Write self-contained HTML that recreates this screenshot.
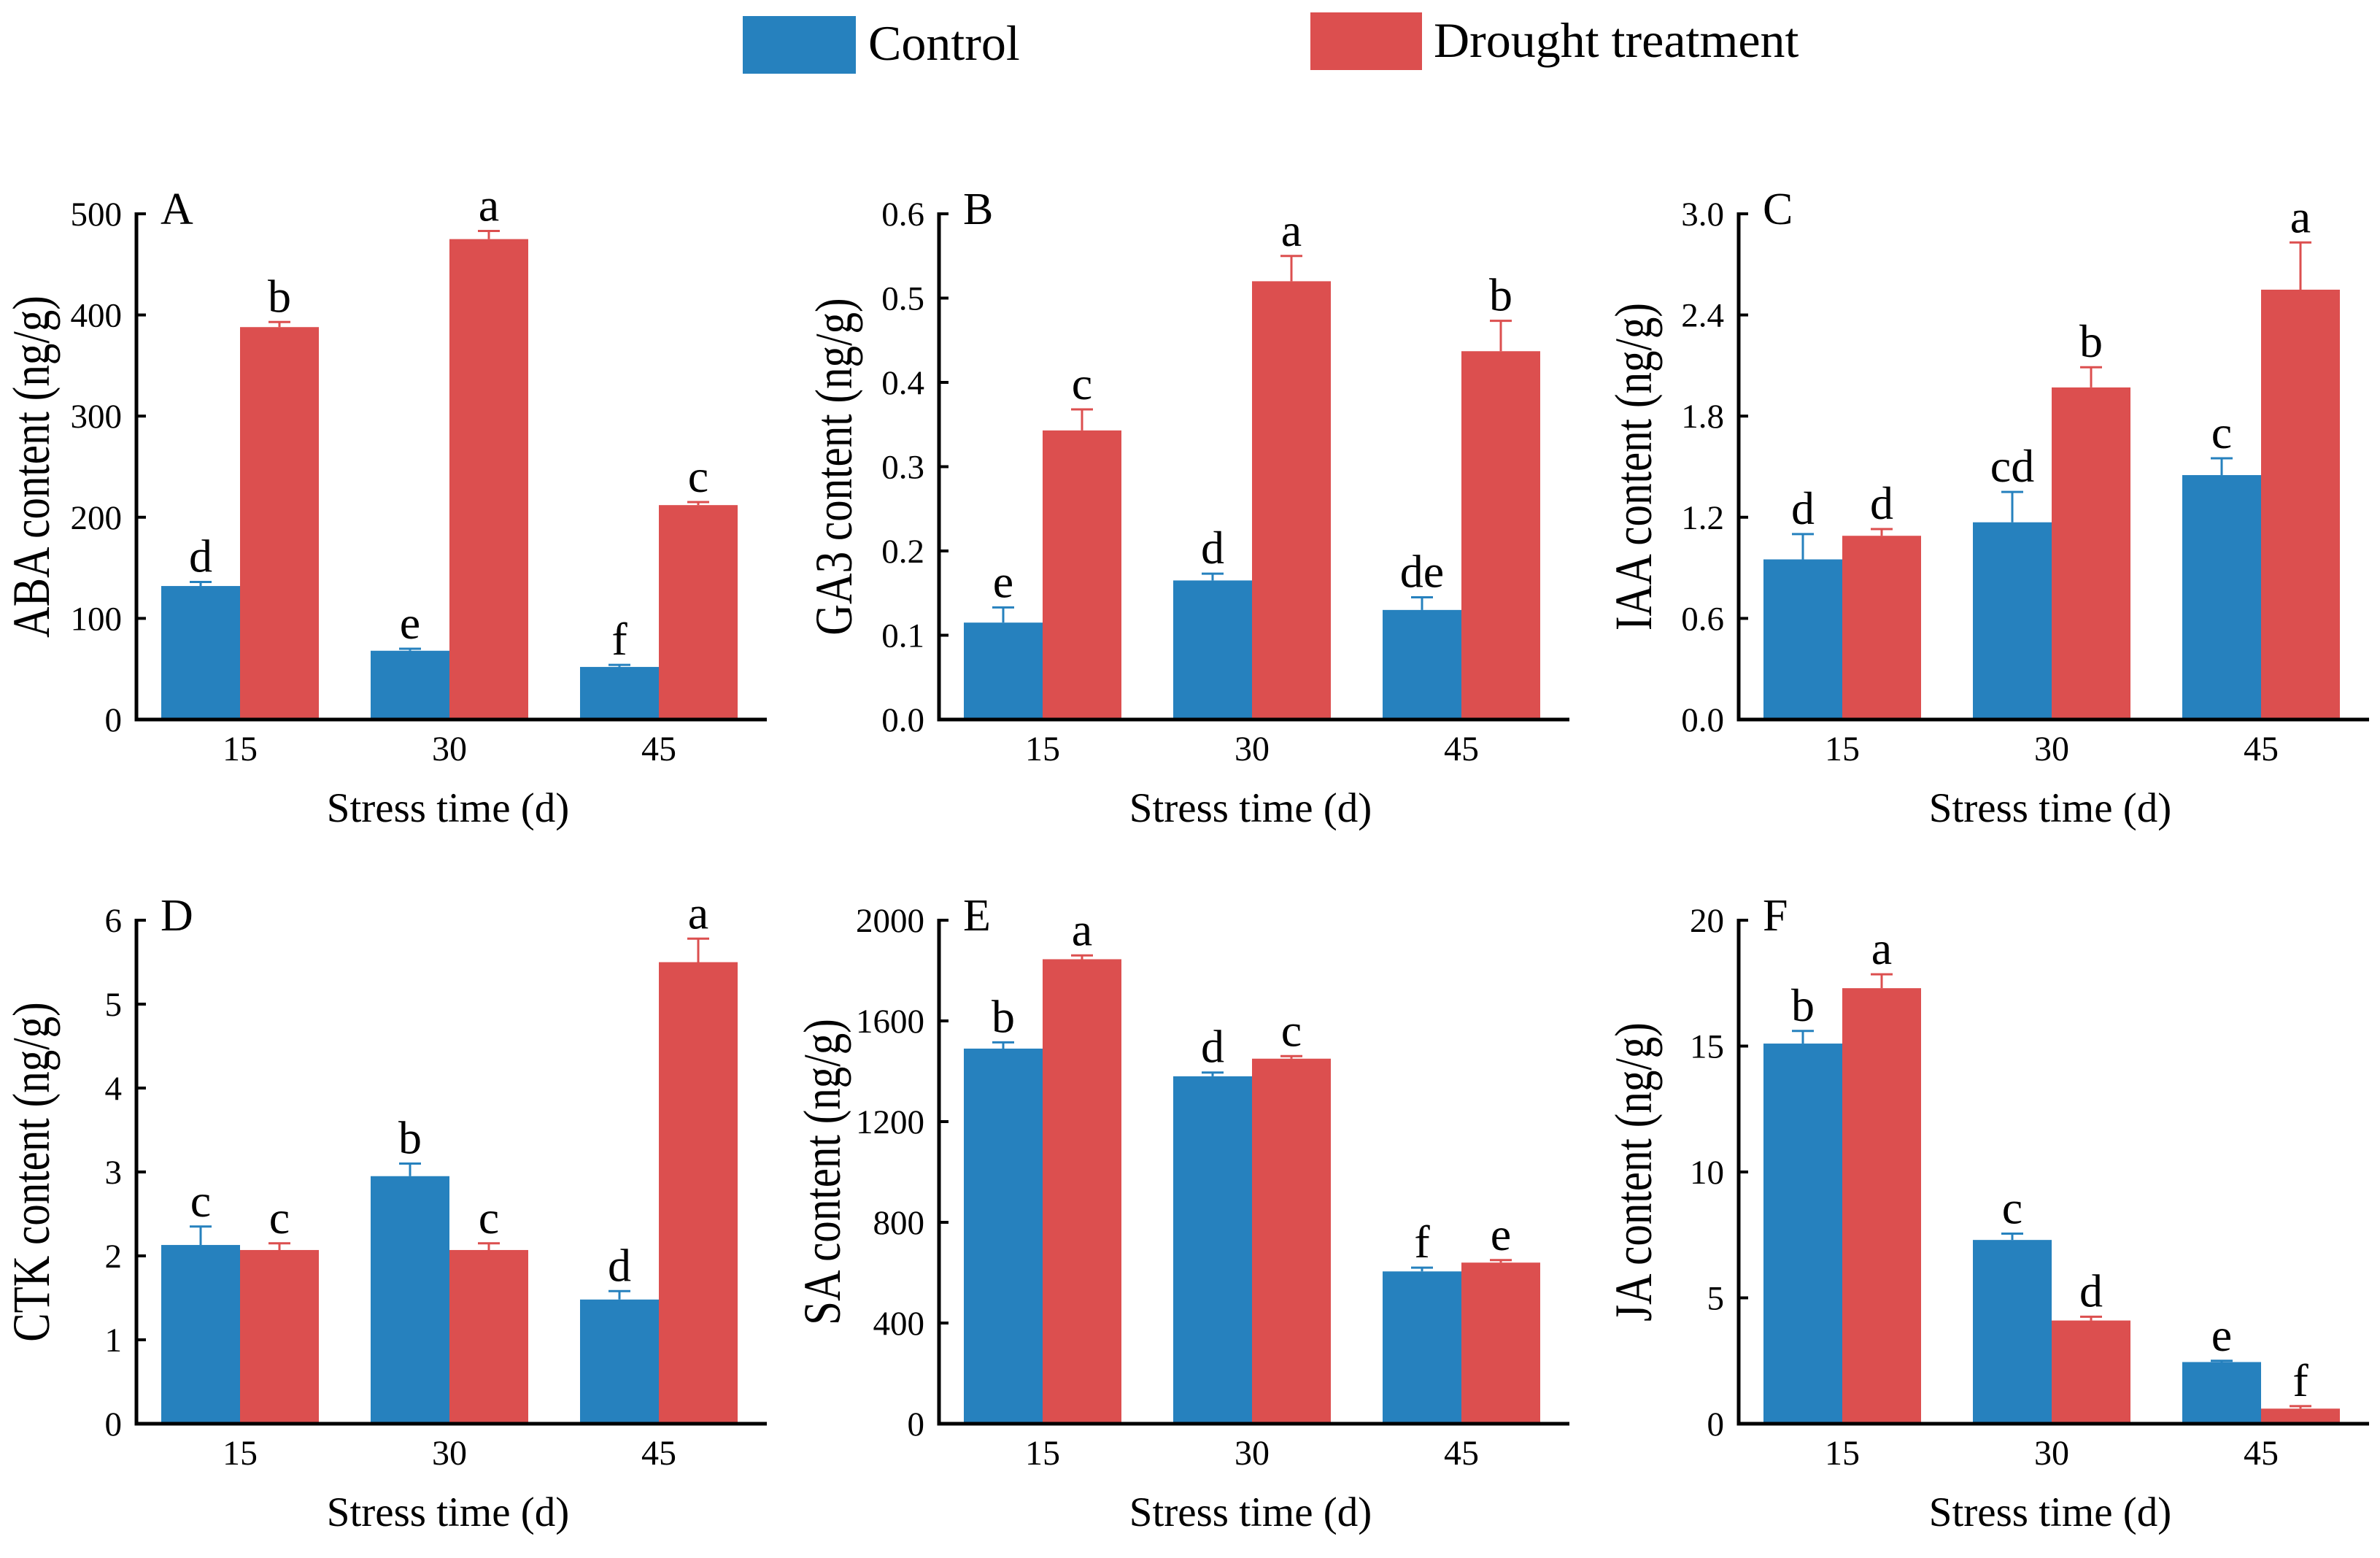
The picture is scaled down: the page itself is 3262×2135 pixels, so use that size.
<!DOCTYPE html>
<html><head><meta charset="utf-8"><style>
html,body{margin:0;padding:0;background:#fff;}
svg{display:block;font-family:"Liberation Serif",serif;}
</style></head><body>
<svg id="fig" width="3262" height="2135" viewBox="0 0 3262 2135" xmlns="http://www.w3.org/2000/svg">
<g>
<rect x="1018" y="22" width="155" height="79" fill="#2681be"/>
<text x="1190" y="82" font-size="68">Control</text>
<rect x="1796" y="17" width="153" height="79" fill="#dc4f4f"/>
<text x="1965" y="78" font-size="68">Drought treatment</text>
</g>
</svg>
<script>
const categories = ["15","30","45"];
const panelLetters = ["A","B","C","D","E","F"];
const yTitles = ["ABA content (ng/g)","GA3 content (ng/g)","IAA content (ng/g)","CTK content (ng/g)","SA content (ng/g)","JA content (ng/g)"];
const yMax = [500,0.6,3.0,6,2000,20];
const yStep = [100,0.1,0.6,1,400,5];
const yDecimals = [0,1,1,0,0,0];
const controlValues = [[132,68,52],[0.115,0.165,0.13],[0.95,1.17,1.45],[2.13,2.95,1.48],[1490,1380,605],[15.1,7.3,2.45]];
const controlErrors = [[4,2,2],[0.018,0.008,0.015],[0.15,0.18,0.1],[0.22,0.15,0.1],[25,15,15],[0.5,0.25,0.05]];
const droughtValues = [[388,475,212],[0.343,0.52,0.437],[1.09,1.97,2.55],[2.07,2.07,5.5],[1845,1450,640],[17.3,4.1,0.6]];
const droughtErrors = [[5,8,3],[0.025,0.03,0.036],[0.04,0.12,0.28],[0.08,0.08,0.28],[15,10,10],[0.55,0.15,0.1]];
const controlLetters = [["d","e","f"],["e","d","de"],["d","cd","c"],["c","b","d"],["b","d","f"],["b","c","e"]];
const droughtLetters = [["b","a","c"],["c","a","b"],["d","b","a"],["c","c","a"],["a","c","e"],["a","d","f"]];

const NS = "http://www.w3.org/2000/svg";
const svg = document.getElementById("fig");
function mk(tag, attrs, parent){
  const e = document.createElementNS(NS, tag);
  for (const k in attrs) e.setAttribute(k, attrs[k]);
  parent.appendChild(e);
  return e;
}
const axisX = [187,1287,2383];
const topY = [293,1261];
const zeroY = [986,1951];
const axisLen = 864, groupOff = 142, groupSp = 287, barW = 108;
const colors = ["#2681be","#dc4f4f"];
const titleOffset = [120,120,120,120,136,120];

for (let p = 0; p < 6; p++) {
  const col = p % 3, row = Math.floor(p / 3);
  const ax = axisX[col], y0 = zeroY[row], yt = topY[row];
  const g = mk("g", {}, svg);
  
  
  const yScale = v => y0 - (v / yMax[p]) * (y0 - yt);
  const xCenter = i => ax + groupOff + i * groupSp;

  for (let i = 0; i < categories.length; i++) {
    const series = [[controlValues, controlErrors, controlLetters, "control"], [droughtValues, droughtErrors, droughtLetters, "drought"]];
    for (let s = 0; s < 2; s++) {
      const v = series[s][0][p][i], er = series[s][1][p][i], lt = series[s][2][p][i];
      const x = s === 0 ? xCenter(i) - barW : xCenter(i);
      const yv = yScale(v), ye = yScale(v + er);
      const r = mk("rect", {x: x, y: yv, width: barW, height: y0 - yv, fill: colors[s]}, g);
      
      
      const cx = x + barW / 2;
      const eb = mk("path", {d: `M${cx} ${yv}V${ye}M${cx-15} ${ye}H${cx+15}`, stroke: colors[s], "stroke-width": 3, fill: "none"}, g);
      
      
      const t = mk("text", {x: cx, y: ye - 14, "font-size": 64, "text-anchor": "middle"}, g);
      t.textContent = lt;
      
      
    }
  }

  const axes = mk("path", {d: `M${ax} ${yt-2}V${y0}H${ax+axisLen}`, stroke: "#000", "stroke-width": 5, fill: "none"}, g);
  
  
  const nT = Math.round(yMax[p] / yStep[p]);
  for (let k = 0; k <= nT; k++) {
    const v = k * yStep[p], y = yScale(v);
    const tk = mk("line", {x1: ax, x2: ax + 13, y1: y, y2: y, stroke: "#000", "stroke-width": 4}, g);
    
    
    const tl = mk("text", {x: ax - 20, y: y + 16, "font-size": 47, "text-anchor": "end"}, g);
    tl.textContent = v.toFixed(yDecimals[p]);
    
    
  }
  for (let i = 0; i < categories.length; i++) {
    const xl = mk("text", {x: xCenter(i), y: y0 + 56, "font-size": 48, "text-anchor": "middle"}, g);
    xl.textContent = categories[i];
    
    
  }
  const xt = mk("text", {x: ax + axisLen / 2 - 5, y: y0 + 140, "font-size": 57, "text-anchor": "middle"}, g);
  xt.textContent = "Stress time (d)";
  
  
  const ycx = ax - titleOffset[p], ycy = (y0 + yt) / 2;
  const yTitle = mk("text", {x: 0, y: 0, "font-size": 72, "text-anchor": "middle", transform: `translate(${ycx} ${ycy}) rotate(-90) scale(0.82 1)`}, g);
  yTitle.textContent = yTitles[p];
  
  
  const pl = mk("text", {x: ax + 33, y: yt + 14, "font-size": 62}, g);
  pl.textContent = panelLetters[p];
  
  
}
</script>
</body></html>
